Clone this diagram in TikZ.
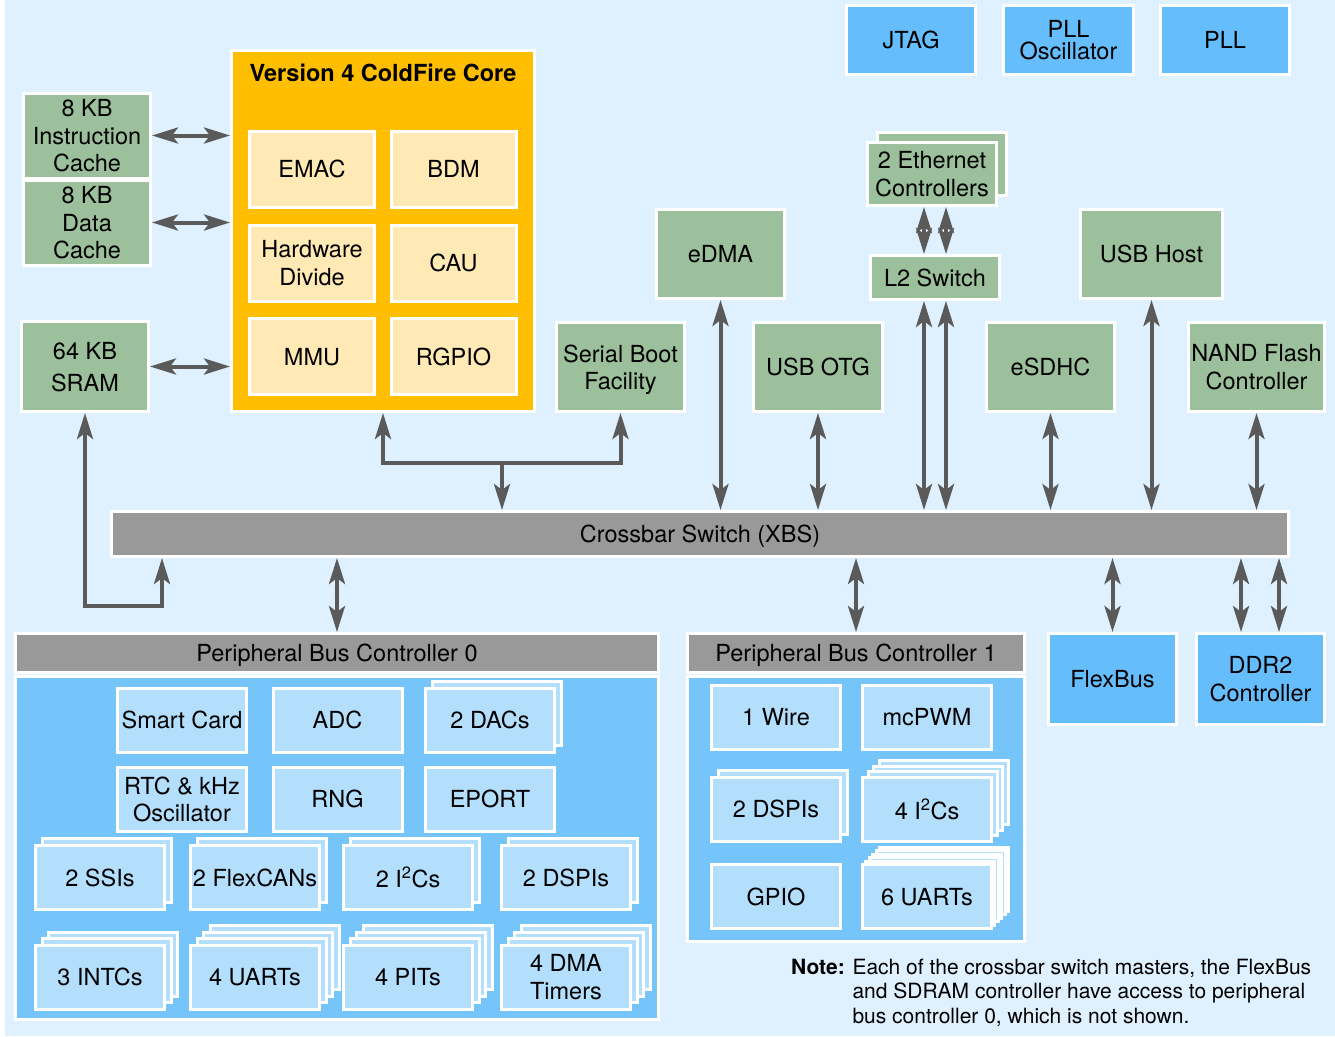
\documentclass[tikz,border=0pt]{standalone}
\usepackage{fontspec}
\setmainfont{TeX Gyre Heros}
\usetikzlibrary{arrows.meta,calc}

\definecolor{bgblue}{HTML}{DFF0FE}
\definecolor{grngray}{HTML}{9BC09B}
\definecolor{coreorange}{HTML}{FFBF00}
\definecolor{cellyellow}{HTML}{FFE9B4}
\definecolor{bargray}{HTML}{999999}
\definecolor{topblue}{HTML}{66BDFB}
\definecolor{busblue}{HTML}{75C5FB}
\definecolor{subblue}{HTML}{B3DFFC}
\definecolor{arrgray}{HTML}{5A5A5A}

% stacked boxes: style, name, centre, layers, step, text
\newcommand{\stackbox}[6]{%
  \foreach \k in {#4,...,1}
    \node[#1] (#2-\k) at ($(#3)+(#5*\k,-#5*\k)$) {};
  \node[#1] (#2) at (#3) {#6};}

\begin{document}
\begin{tikzpicture}[x=1pt,y=-1pt,
    every node/.style={font=\fontsize{23.5}{27.5}\selectfont,align=center,inner sep=0pt},
    blk/.style={draw=white,line width=3pt,minimum width=128pt,minimum height=89pt,text depth=0pt},
    grn node/.style={blk,fill=grngray},
    top node/.style={blk,fill=topblue},
    cell node/.style={blk,fill=cellyellow,minimum width=125pt,minimum height=76pt},
    sub node/.style={blk,fill=subblue,minimum width=129pt,minimum height=64pt},
    bar node/.style={blk,fill=bargray},
    tip/.tip={Stealth[length=26pt,width=16pt,inset=6pt]},
    dbl/.style={tip-tip,draw=arrgray,line width=4pt},
    arr/.style={-tip,draw=arrgray,line width=4pt}]

  \useasboundingbox (0,0) rectangle (1335,1036);
  \fill[white] (0,0) rectangle (5,1036);
  \fill[bgblue] (5,0) rectangle (1335,1036);

  % ColdFire core
  \node[blk,fill=coreorange,minimum width=303pt,minimum height=361pt] (core) at (383,231) {};
  \node[font=\fontsize{23.5}{27.5}\selectfont\bfseries] (coretitle) at (383,73) {Version 4 ColdFire Core};
  \node[cell node] (emac) at (312,169) {EMAC};
  \node[cell node] (bdm) at (453.5,169) {BDM};
  \node[cell node] (hwdiv) at (312,263) {Hardware\\Divide};
  \node[cell node] (cau) at (453.5,263) {CAU};
  \node[cell node] (mmu) at (312,356.5) {MMU};
  \node[cell node] (rgpio) at (453.5,356.5) {RGPIO};

  % memories and masters
  \node[grn node,minimum width=127pt,minimum height=85pt] (icache) at (87,135.5) {8 KB\\Instruction\\Cache};
  \node[grn node,minimum width=127pt,minimum height=85pt] (dcache) at (87,222.5) {8 KB\\Data\\Cache};
  \node[grn node,minimum width=127pt,minimum height=90pt,font=\fontsize{23.5}{32}\selectfont] (sram) at (85,366.5) {64 KB\\SRAM};
  \node[grn node] (sbf) at (620.5,367) {Serial Boot\\Facility};
  \node[grn node] (edma) at (720.5,254) {eDMA};
  \node[grn node,minimum width=129pt] (otg) at (818,367) {USB OTG};
  \stackbox{grn node,minimum width=129pt,minimum height=63pt}{eth}{932,174}{1}{10}{2 Ethernet\\Controllers}
  \node[grn node,minimum width=129pt,minimum height=44pt] (l2sw) at (935,277.5) {L2 Switch};
  \node[grn node] (esdhc) at (1050.5,367) {eSDHC};
  \node[grn node,minimum width=142pt] (usbh) at (1151.5,254) {USB Host};
  \node[grn node,minimum width=136pt] (nand) at (1256.5,367) {NAND Flash\\Controller};

  \node[top node,minimum width=129pt,minimum height=69pt] (jtag) at (911,40) {JTAG};
  \node[top node,minimum width=130pt,minimum height=69pt,font=\fontsize{23.5}{22}\selectfont] (pllosc) at (1068.5,40) {PLL\\Oscillator};
  \node[top node,minimum width=129pt,minimum height=69pt] (pll) at (1225,40) {PLL};

  % crossbar
  \node[bar node,minimum width=1177pt,minimum height=45pt] (xbs) at (700,534) {Crossbar Switch (XBS)};

  % peripheral bus controller 0
  \node[bar node,minimum width=643pt,minimum height=39pt] (pbc0h) at (337,653) {Peripheral Bus Controller 0};
  \node[blk,fill=busblue,minimum width=643pt,minimum height=343pt] (pbc0) at (337,848) {};
  \node[sub node] (smart) at (182,720) {Smart Card};
  \node[sub node] (adc) at (337.5,720) {ADC};
  \stackbox{sub node}{dacs}{490,720}{1}{7}{2 DACs}
  \node[sub node] (rtc) at (182,799) {RTC \& kHz\\Oscillator};
  \node[sub node] (rng) at (337.5,799) {RNG};
  \node[sub node] (eport) at (490,799) {EPORT};
  \stackbox{sub node}{ssis}{100,877.5}{1}{7}{2 SSIs}
  \stackbox{sub node}{cans}{255,877.5}{1}{7}{2 FlexCANs}
  \stackbox{sub node}{iics}{408,877.5}{1}{7}{2 I\textsuperscript{2}Cs}
  \stackbox{sub node}{dspis}{566,877.5}{1}{7}{2 DSPIs}
  \stackbox{sub node}{intcs}{100,977}{2}{6.5}{3 INTCs}
  \stackbox{sub node}{uarts}{255,977}{3}{6.5}{4 UARTs}
  \stackbox{sub node}{pits}{408,977}{3}{6.5}{4 PITs}
  \stackbox{sub node}{dmat}{566,977}{3}{6.5}{4 DMA\\Timers}

  % peripheral bus controller 1
  \node[bar node,minimum width=337pt,minimum height=39pt] (pbc1h) at (856,653) {Peripheral Bus Controller 1};
  \node[blk,fill=busblue,minimum width=337pt,minimum height=265pt] (pbc1) at (856,809) {};
  \node[sub node] (wire) at (776,717) {1 Wire};
  \node[sub node] (pwm) at (927,717) {mcPWM};
  \stackbox{sub node}{dspib}{776,809}{1}{7}{2 DSPIs}
  \stackbox{sub node}{iicb}{927,809}{3}{5.5}{4 I\textsuperscript{2}Cs}
  \node[sub node] (gpio) at (776,896.5) {GPIO};
  \stackbox{sub node}{uartb}{927,896.5}{5}{3.4}{6 UARTs}

  \node[top node,minimum height=91pt] (flexbus) at (1112.5,679) {FlexBus};
  \node[top node,minimum height=91pt] (ddr2) at (1260.5,679) {DDR2\\Controller};

  \node[anchor=north west,font=\fontsize{21}{24.5}\selectfont] (note) at (791,957)
    {\begin{tabular}{@{}l@{ }l@{}}\textbf{Note:} & Each of the crossbar switch masters, the FlexBus\\
      & and SDRAM controller have access to peripheral\\
      & bus controller 0, which is not shown.\end{tabular}};

  % connections
  \draw[dbl] (icache.east) -- (icache.east -| core.west);
  \draw[dbl] (dcache.east) -- (dcache.east -| core.west);
  \draw[dbl] (sram.east) -- (sram.east -| core.west);
  \coordinate (sbend) at (162,606);
  \draw[dbl] (sram.south) |- (sbend) -- (sbend |- xbs.south);
  \coordinate (cjoin) at (502,463);
  \draw[dbl] (core.south) |- (cjoin) -| (sbf.south);
  \draw[arr] (cjoin) -- (cjoin |- xbs.north);
  \draw[dbl] (edma.south) -- (edma.south |- xbs.north);
  \draw[dbl] (otg.south) -- (otg.south |- xbs.north);
  \draw[dbl] ([xshift=-11pt]l2sw.south) -- ([xshift=-11pt]l2sw.south |- xbs.north);
  \draw[dbl] ([xshift=11pt]l2sw.south) -- ([xshift=11pt]l2sw.south |- xbs.north);
  \draw[dbl] ([xshift=-11pt]l2sw.north) -- ([xshift=-11pt]l2sw.north |- eth.south);
  \draw[dbl] ([xshift=11pt]l2sw.north) -- ([xshift=11pt]l2sw.north |- eth.south);
  \draw[dbl] (esdhc.south) -- (esdhc.south |- xbs.north);
  \draw[dbl] (usbh.south) -- (usbh.south |- xbs.north);
  \draw[dbl] (nand.south) -- (nand.south |- xbs.north);
  \draw[dbl] (pbc0h.north) -- (pbc0h.north |- xbs.south);
  \draw[dbl] (pbc1h.north) -- (pbc1h.north |- xbs.south);
  \draw[dbl] (flexbus.north) -- (flexbus.north |- xbs.south);
  \draw[dbl] ([xshift=-19.5pt]ddr2.north) -- ([xshift=-19.5pt]ddr2.north |- xbs.south);
  \draw[dbl] ([xshift=18.5pt]ddr2.north) -- ([xshift=18.5pt]ddr2.north |- xbs.south);
\end{tikzpicture}
\end{document}
